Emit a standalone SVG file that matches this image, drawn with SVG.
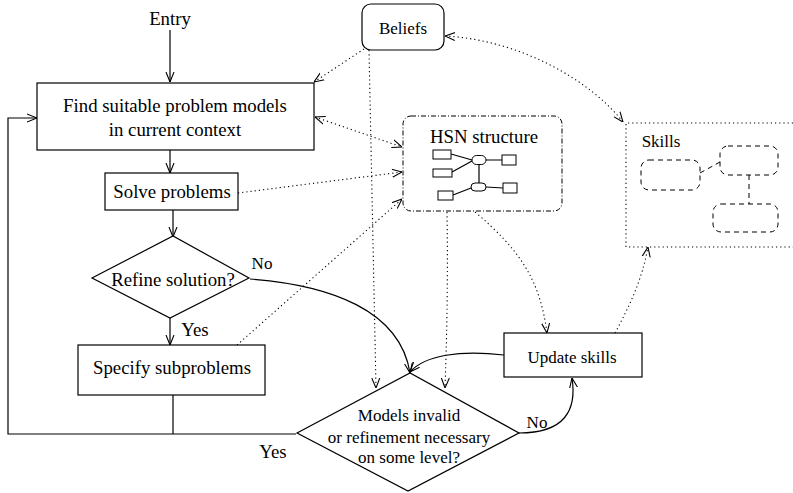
<svg xmlns="http://www.w3.org/2000/svg" width="793" height="493" viewBox="0 0 793 493">
<style>
text{font-family:"Liberation Serif","Times New Roman",serif;font-size:17px;fill:#000;text-anchor:middle}
.L{font-size:18.8px}
.b{fill:#fff;stroke:#000;stroke-width:1.2}
.s{fill:none;stroke:#000;stroke-width:1.2}
.d{fill:none;stroke:#000;stroke-width:1.1;stroke-dasharray:1.2,3}
.dd{fill:none;stroke:#000;stroke-width:1;stroke-dasharray:5,4}
.m{fill:#fff;stroke:#000;stroke-width:1}
</style>
<defs>
<marker id="a" viewBox="0 0 10 10" refX="10" refY="5" markerWidth="10" markerHeight="10" markerUnits="userSpaceOnUse" orient="auto-start-reverse">
<path d="M0,1 L10,5 L0,9" fill="none" stroke="#000" stroke-width="1.1"/>
</marker>
</defs>
<g id="connectors">
<path class="s" d="M170,30 V82" marker-end="url(#a)"/>
<path class="s" d="M170,150 V173" marker-end="url(#a)"/>
<path class="s" d="M173,210 V237" marker-end="url(#a)"/>
<path class="s" d="M170,318 V345" marker-end="url(#a)"/>
<path class="s" d="M173,395 V434"/>
<path class="s" d="M296,434 H8 V118 H37" marker-end="url(#a)"/>
<path class="s" d="M250,279 C330,285 400,310 410,373" marker-end="url(#a)"/>
<path class="s" d="M504,355 C460,350 425,355 410,372" marker-end="url(#a)"/>
<path class="s" d="M519,433 C565,433 577,410 572,378" marker-end="url(#a)"/>
<path class="d" d="M364,49 L314,82" marker-end="url(#a)"/>
<path class="d" d="M369,50 L376,388" marker-end="url(#a)"/>
<path class="d" d="M445,36 C520,40 590,80 623,122" marker-start="url(#a)" marker-end="url(#a)"/>
<path class="d" d="M315,117 L402,147" marker-start="url(#a)" marker-end="url(#a)"/>
<path class="d" d="M238,193 L402,172" marker-end="url(#a)"/>
<path class="d" d="M237,345 L402,199" marker-end="url(#a)"/>
<path class="d" d="M447,212 C448,280 447,330 445,388" marker-end="url(#a)"/>
<path class="d" d="M475,212 C520,250 540,280 547,333" marker-end="url(#a)"/>
<path class="d" d="M615,333 C630,305 642,280 648,247" marker-end="url(#a)"/>
</g>
<g id="entry"><text class="L" x="170" y="25">Entry</text></g>
<g id="find">
<rect class="b" x="37" y="83" width="277" height="67"/>
<text class="L" x="175" y="112">Find suitable problem models</text>
<text class="L" x="175" y="136">in current context</text>
</g>
<g id="solve">
<rect class="b" x="105" y="173" width="133" height="37"/>
<text class="L" x="172" y="198">Solve problems</text>
</g>
<g id="refine">
<path class="b" d="M92,278 L173,236 L249,278 L170,318 Z"/>
<text class="L" x="173" y="286">Refine solution?</text>
<text x="262" y="269">No</text>
<text class="L" x="195" y="336">Yes</text>
</g>
<g id="specify">
<rect class="b" x="78" y="345" width="187" height="50"/>
<text class="L" x="172" y="374">Specify subproblems</text>
</g>
<g id="models">
<path class="b" d="M297,433 L410,373 L519,433 L408,491 Z"/>
<text x="409" y="421">Models invalid</text>
<text x="409" y="443">or refinement necessary</text>
<text x="409" y="463">on some level?</text>
<text class="L" x="273" y="458">Yes</text>
<text x="537" y="428">No</text>
</g>
<g id="update">
<rect class="b" x="504" y="333" width="138" height="44"/>
<text x="572" y="363">Update skills</text>
</g>
<g id="beliefs">
<rect class="b" x="362" y="4" width="82" height="46" rx="9"/>
<text x="403" y="34">Beliefs</text>
</g>
<g id="hsn">
<rect x="403" y="116" width="159" height="95" rx="8" fill="#fff" stroke="#000" stroke-width="1" stroke-dasharray="5,2,1,2"/>
<text class="L" x="484" y="143">HSN structure</text>
<path class="s" d="M451,154 L472,160 M452,172 L472,161 M486,160 H502 M479,164 V183 M453,195 L471,188 M486,187 L503,188" stroke-width="1"/>
<rect class="m" x="433" y="150" width="18" height="9"/>
<rect class="m" x="433" y="169" width="19" height="8"/>
<rect class="m" x="438" y="191" width="15" height="9"/>
<rect class="m" x="502" y="155" width="14" height="10"/>
<rect class="m" x="503" y="183" width="14" height="10"/>
<rect class="m" x="472" y="155.5" width="14" height="9" rx="4.5"/>
<rect class="m" x="471" y="183" width="15" height="8" rx="4"/>
</g>
<g id="skills">
<path class="d" d="M793,123 H626 V247 H793"/>
<text x="661" y="147">Skills</text>
<rect class="dd" x="641" y="160" width="59" height="30" rx="8"/>
<rect class="dd" x="720" y="146" width="58" height="29" rx="8"/>
<rect class="dd" x="713" y="204" width="65" height="28" rx="8"/>
<path class="dd" d="M700,173 L720,162 M749,175 V204"/>
</g>
</svg>
